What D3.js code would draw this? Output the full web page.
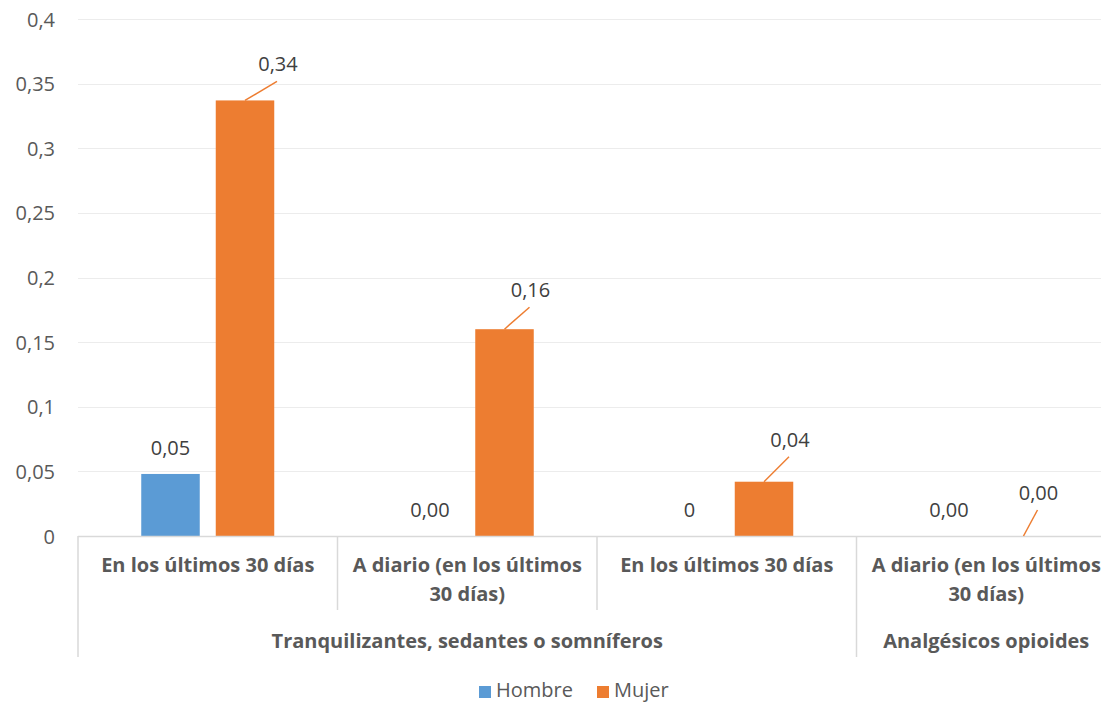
<!DOCTYPE html>
<html><head><meta charset="utf-8">
<script src="https://cdn.jsdelivr.net/npm/d3@7"></script>
<style>
html,body{margin:0;padding:0;background:#fff;overflow:hidden;}
svg{display:block;}
</style></head>
<body><div id="chart"></div>
<script>
// ---- data ----
const subcategories = [["En los últimos 30 días"], ["A diario (en los últimos", "30 días)"], ["En los últimos 30 días"], ["A diario (en los últimos", "30 días)"]];
const groups = ["Tranquilizantes, sedantes o somníferos", "Analgésicos opioides"];
const groupSpans = [3, 1];
const seriesNames = ["Hombre", "Mujer"];
const hombre = [0.048, 0.0, 0.0, 0.0];
const mujer = [0.337, 0.160, 0.042, 0.0];
const hombreLabels = ["0,05", "0,00", "0", "0,00"];
const mujerLabels = ["0,34", "0,16", "0,04", "0,00"];
const yTicks = [0, 0.05, 0.1, 0.15, 0.2, 0.25, 0.3, 0.35, 0.4];
const yTickLabels = ["0", "0,05", "0,1", "0,15", "0,2", "0,25", "0,3", "0,35", "0,4"];

// ---- layout ----
const W = 1101, H = 703;
const plot = {left: 78, right: 1116, top: 19, bottom: 536};
const colors = {Hombre: "#5B9BD5", Mujer: "#ED7D31"};
const leader = [[32, -19], [25, -22], [25, -25], [14, -26]];
const font = "'Open Sans', sans-serif";

const svg = d3.select("#chart").append("svg").attr("width", W).attr("height", H);

const y = d3.scaleLinear().domain([0, 0.4]).range([plot.bottom, plot.top]);
const x0 = d3.scaleBand().domain(d3.range(4)).range([plot.left, plot.right]).paddingInner(0).paddingOuter(0);
const gw = x0.bandwidth();
const x1 = d3.scaleBand().domain(seriesNames).range([63.25, gw - 63.25]).paddingInner(16 / 133 * 2 / (1 + 16/133)).paddingOuter(0);

// gridlines
svg.append("g").selectAll("line").data(yTicks.filter(d => d > 0)).join("line")
  .attr("x1", plot.left).attr("x2", plot.right)
  .attr("y1", d => Math.round(y(d)) + 0.5).attr("y2", d => Math.round(y(d)) + 0.5)
  .attr("stroke", "#ececec").attr("stroke-width", 1);

// y axis labels
const yAxis = d3.axisLeft(y).tickValues(yTicks).tickSize(0).tickPadding(0)
  .tickFormat((d, i) => yTickLabels[i]);
const ya = svg.append("g").attr("transform", `translate(${55},0)`).call(yAxis);
ya.select(".domain").remove();
ya.selectAll("text").attr("font-family", font).attr("font-size", 20).attr("fill", "#595959")
  .attr("text-anchor", "end").attr("dy", "0.35em");

// bars
const bars = svg.append("g");
[hombre, mujer].forEach((vals, si) => {
  const s = seriesNames[si];
  bars.selectAll(null).data(vals).join("rect")
    .attr("x", (d, i) => x0(i) + x1(s))
    .attr("width", x1.bandwidth())
    .attr("y", d => y(d))
    .attr("height", d => y(0) - y(d))
    .attr("fill", colors[s]);
});

// baseline
svg.append("line").attr("x1", plot.left).attr("x2", plot.right)
  .attr("y1", plot.bottom + 0.5).attr("y2", plot.bottom + 0.5)
  .attr("stroke", "#d9d9d9").attr("stroke-width", 1.5);

// hombre labels
svg.append("g").selectAll("text").data(hombre).join("text")
  .attr("x", (d, i) => x0(i) + x1("Hombre") + x1.bandwidth() / 2)
  .attr("y", d => y(d) - 19)
  .attr("text-anchor", "middle").attr("font-family", font).attr("font-size", 20).attr("fill", "#404040")
  .text((d, i) => hombreLabels[i]);

// mujer labels with leader lines
const ml = svg.append("g");
mujer.forEach((d, i) => {
  const cx = x0(i) + x1("Mujer") + x1.bandwidth() / 2;
  const ty = y(d);
  const ex = cx + leader[i][0], ey = ty + leader[i][1];
  ml.append("line").attr("x1", cx).attr("y1", ty).attr("x2", ex).attr("y2", ey)
    .attr("stroke", colors.Mujer).attr("stroke-width", 1.5);
  ml.append("text").attr("x", ex + 1).attr("y", ey - 10).attr("text-anchor", "middle")
    .attr("font-family", font).attr("font-size", 20).attr("fill", "#404040").text(mujerLabels[i]);
});

// category axis separators
const sep = svg.append("g").attr("stroke", "#d9d9d9").attr("stroke-width", 1.5);
let acc = 0;
const groupBounds = [0];
groupSpans.forEach(s => { acc += s; groupBounds.push(acc); });
d3.range(5).forEach(i => {
  const xx = i < 4 ? x0(i) : plot.right;
  const isGroup = groupBounds.includes(i);
  sep.append("line").attr("x1", xx).attr("x2", xx).attr("y1", plot.bottom)
    .attr("y2", isGroup ? 657 : 610);
});

// subcategory labels
const sub = svg.append("g");
subcategories.forEach((lines, i) => {
  const cx = x0(i) + gw / 2;
  lines.forEach((t, k) => {
    sub.append("text").attr("x", cx).attr("y", 572 + k * 28.5).attr("text-anchor", "middle")
      .attr("font-family", font).attr("font-weight", "bold").attr("font-size", 20).attr("fill", "#595959").text(t);
  });
});

// group labels
groups.forEach((g, gi) => {
  const a = groupBounds[gi], b = groupBounds[gi + 1];
  const xa = x0(a), xb = b < 4 ? x0(b) : plot.right;
  svg.append("text").attr("x", (xa + xb) / 2).attr("y", 648).attr("text-anchor", "middle")
    .attr("font-family", font).attr("font-weight", "bold").attr("font-size", 20).attr("fill", "#595959").text(g);
});

// legend
const legend = svg.append("g");
const lx = [479, 597];
seriesNames.forEach((s, i) => {
  legend.append("rect").attr("x", lx[i]).attr("y", 686).attr("width", 12).attr("height", 12).attr("fill", colors[s]);
  legend.append("text").attr("x", lx[i] + 17).attr("y", 697).attr("font-family", font).attr("font-size", 20)
    .attr("fill", "#595959").text(s);
});
</script>
</body></html>
